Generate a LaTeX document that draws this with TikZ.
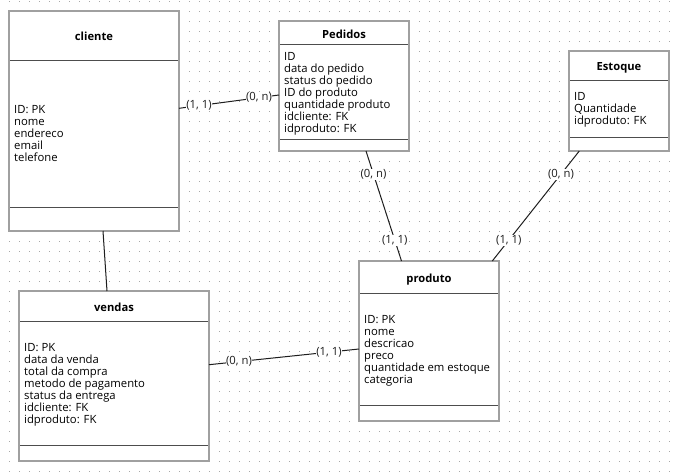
\documentclass[tikz,border=0pt]{standalone}
\usepackage{fontspec}
\setmainfont{Open Sans}
\usetikzlibrary{calc}
\definecolor{boxgray}{HTML}{A0A0A0}
\definecolor{divgray}{HTML}{4D4D4D}
\definecolor{dotgray}{HTML}{A8A8A8}
\definecolor{linec}{HTML}{1E1E1E}
\begin{document}
\begin{tikzpicture}[x=1pt,y=-1pt,
  entity/.style={draw=boxgray,line width=2pt,fill=white,outer sep=0pt,inner sep=0pt,anchor=north west},
  etitle/.style={font=\fontsize{11.2}{12}\selectfont\bfseries,inner sep=0pt,anchor=base},
  attr/.style={font=\fontsize{11.3}{12}\selectfont,inner sep=0pt,anchor=base west},
  divider/.style={draw=divgray,line width=1pt},
  rel/.style={draw=linec,line width=1pt},
  card/.style={font=\fontsize{11.3}{12}\selectfont,fill=white,inner sep=0.6pt,text=linec}
]
\useasboundingbox (0,0) rectangle (677,472);
\fill[white] (0,0) rectangle (677,472);
% dotted grid
\foreach \i in {0,...,66}{
  \foreach \j in {0,...,47}{
    \fill[dotgray] (9+10*\i,1+10*\j) rectangle +(1,1);
  }
}
% entities
\node[entity,minimum width=170pt,minimum height=220pt] (cli) at (9,11) {};
\node[entity,minimum width=130pt,minimum height=130pt] (ped) at (279,21) {};
\node[entity,minimum width=100pt,minimum height=100pt] (est) at (569,51) {};
\node[entity,minimum width=140pt,minimum height=160pt] (pro) at (359,261) {};
\node[entity,minimum width=190pt,minimum height=170pt] (ven) at (19,291) {};
% dividers
\draw[divider] (10,60) -- (178,60);
\draw[divider] (10,207) -- (178,207);
\draw[divider] (280,44) -- (408,44);
\draw[divider] (280,139) -- (408,139);
\draw[divider] (570,80) -- (668,80);
\draw[divider] (570,137) -- (668,137);
\draw[divider] (360,293) -- (498,293);
\draw[divider] (360,405) -- (498,405);
\draw[divider] (20,321) -- (208,321);
\draw[divider] (20,445) -- (208,445);
% titles
\node[etitle] (cli-t) at (94,40) {cliente};
\node[etitle] (ped-t) at (344,38.3) {Pedidos};
\node[etitle] (est-t) at (619,70) {Estoque};
\node[etitle] (pro-t) at (429,282.3) {produto};
\node[etitle] (ven-t) at (114,311.7) {vendas};
% attributes
\foreach \t [count=\k from 0] in {ID: PK,nome,endereco,email,telefone}
  \node[attr] (cli-a\k) at (14,113.3+12*\k) {\t};
\foreach \t [count=\k from 0] in {ID,data do pedido,status do pedido,ID do produto,quantidade produto,idcliente: FK,idproduto: FK}
  \node[attr] (ped-a\k) at (284,60.5+12*\k) {\t};
\foreach \t [count=\k from 0] in {ID,Quantidade,idproduto: FK}
  \node[attr] (est-a\k) at (574,100.5+12*\k) {\t};
\foreach \t [count=\k from 0] in {ID: PK,nome,descricao,preco,quantidade em estoque,categoria}
  \node[attr] (pro-a\k) at (364,323.5+12*\k) {\t};
\foreach \t [count=\k from 0] in {ID: PK,data da venda,total da compra,metodo de pagamento,status da entrega,idcliente: FK,idproduto: FK}
  \node[attr] (ven-a\k) at (24,351.5+12*\k) {\t};
% relationships
\draw[rel] ([yshift=12.7pt]cli.east) -- node[card,pos=0.2] (c1a) {(1, 1)} node[card,pos=0.8] (c1b) {(0, n)} ([yshift=-9pt]ped.west);
\draw[rel] ([xshift=9pt]cli.south) -- ([xshift=-7pt]ven.north);
\draw[rel] ([xshift=22pt]ped.south) -- node[card,pos=0.21] (c3a) {(0, n)} node[card,pos=0.81] (c3b) {(1, 1)} ([xshift=-27.5pt]pro.north);
\draw[rel] ([xshift=-39.7pt]est.south) -- node[card,pos=0.21] (c4a) {(0, n)} node[card,pos=0.81] (c4b) {(1, 1)} ([xshift=63.3pt]pro.north);
\draw[rel] ([yshift=11.3pt]ven.east) -- node[card,pos=0.2] (c5a) {(0, n)} node[card,pos=0.8] (c5b) {(1, 1)} ([yshift=-8pt]pro.west);
\end{tikzpicture}
\end{document}
